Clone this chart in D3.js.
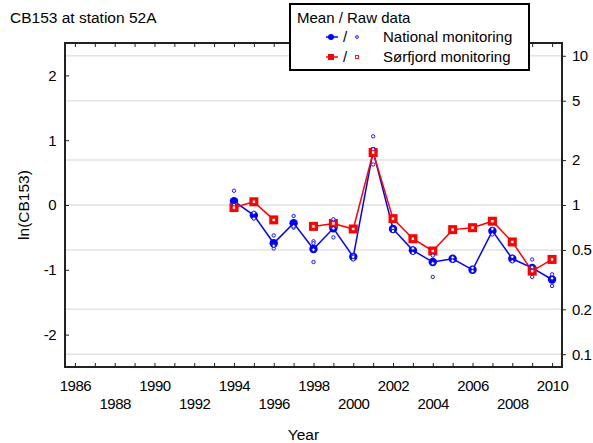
<!DOCTYPE html>
<html>
<head>
<meta charset="utf-8">
<script src="https://cdnjs.cloudflare.com/ajax/libs/d3/7.8.5/d3.min.js"></script>
<style>
  body { margin: 0; background: #fff; }
  svg text { font-family: "Liberation Sans", Arial, sans-serif; fill: #000; }
</style>
</head>
<body>
<div id="chart"></div>
<script>
// data (ln scale)
var years = [1994, 1995, 1996, 1997, 1998, 1999, 2000, 2001, 2002,
             2003, 2004, 2005, 2006, 2007, 2008, 2009, 2010];

var nationalMean = [0.06, -0.16, -0.59, -0.28, -0.68, -0.36, -0.80, 0.83, -0.37,
                    -0.70, -0.88, -0.83, -1.00, -0.40, -0.83, -0.97, -1.15];

var nationalRaw = [
  [0.22, 0.0, -0.04],
  [-0.12, -0.21],
  [-0.47, -0.67, -0.63],
  [-0.17, -0.35, -0.33],
  [-0.56, -0.59, -0.88, -0.69],
  [-0.22, -0.50, -0.36],
  [-0.78, -0.84, -0.80],
  [1.06, 0.86, 0.625],
  [-0.36, -0.40],
  [-0.67, -0.74],
  [-0.72, -0.78, -1.11, -0.90],
  [-0.81, -0.86],
  [-0.97, -1.02],
  [-0.37, -0.455],
  [-0.80, -0.87],
  [-0.84, -0.96, -1.11],
  [-1.07, -1.13, -1.25]
];

// 1997 has no Sørfjord sample
var sorfjordMean = [-0.04, 0.05, -0.23, null, -0.33, -0.285, -0.37, 0.81, -0.21,
                    -0.52, -0.71, -0.38, -0.35, -0.25, -0.57, -1.02, -0.84];
var sorfjordRaw = [-0.04, 0.05, -0.23, null, -0.33, -0.285, -0.37, 0.81, -0.21,
                   -0.52, -0.71, -0.38, -0.35, -0.25, -0.57, -1.02, -0.84];

var leftTicks = [-2, -1, 0, 1, 2];
var rightTicks = [0.1, 0.2, 0.5, 1, 2, 5, 10];
var yearTicks = d3.range(1986, 2011);
var yearLabels = d3.range(1986, 2011, 2);

var W = 593, H = 443;
var plot = {left: 65, top: 43, right: 562, bottom: 367};

var svg = d3.select("#chart").append("svg")
    .attr("width", W)
    .attr("height", H);

var x = d3.scaleLinear().domain([1985.5, 2010.5]).range([plot.left, plot.right]);
var y = d3.scaleLinear().domain([-2.5, 2.5]).range([plot.bottom, plot.top]);
var yLog = d3.scaleLog().domain([Math.exp(-2.5), Math.exp(2.5)]).range([plot.bottom, plot.top]);

var blue = "#0000ff", red = "#ff0000";

// title
svg.append("text")
  .attr("x", 10)
  .attr("y", 23)
  .style("font-size", "15.5px")
  .text("CB153 at station 52A");

// gridlines at the log ticks
svg.append("g").selectAll("line")
  .data(rightTicks)
  .enter().append("line")
    .attr("x1", plot.left)
    .attr("x2", plot.right)
    .attr("y1", function(d) { return yLog(d); })
    .attr("y2", function(d) { return yLog(d); })
    .attr("stroke", "#e2e2e2")
    .attr("stroke-width", 1.5);

// left axis
var gl = svg.append("g")
  .attr("transform", "translate(" + plot.left + ",0)")
  .call(d3.axisLeft(y).tickValues(leftTicks).tickSizeInner(-4).tickSizeOuter(0).tickPadding(9)
        .tickFormat(function(d) { return d; }));

// right axis (raw scale)
var gr = svg.append("g")
  .attr("transform", "translate(" + plot.right + ",0)")
  .call(d3.axisRight(yLog).tickValues(rightTicks).tickSizeInner(4).tickSizeOuter(0).tickPadding(6)
        .tickFormat(function(d) { return String(d); }));

// bottom ticks + labels
var gb = svg.append("g")
  .attr("transform", "translate(0," + plot.bottom + ")")
  .call(d3.axisBottom(x).tickValues(yearTicks).tickSizeInner(-4).tickSizeOuter(0).tickFormat(""));
var gbl = svg.append("g")
  .attr("transform", "translate(0," + plot.bottom + ")")
  .call(d3.axisBottom(x).tickValues(yearLabels).tickSize(0).tickPadding(13)
        .tickFormat(function(d) { return d; }));
gbl.selectAll("text")
  .attr("dy", function(d) { return (d - 1986) % 4 === 0 ? "0.71em" : "1.93em"; });

// top ticks
var gt = svg.append("g")
  .attr("transform", "translate(0," + plot.top + ")")
  .call(d3.axisTop(x).tickValues(yearTicks).tickSizeInner(-4).tickSizeOuter(0).tickFormat(""));

[gl, gr, gb, gbl, gt].forEach(function(g) {
  g.select(".domain").remove();
  g.selectAll("line").attr("stroke", "#222").attr("stroke-width", 1);
  g.selectAll("text")
    .style("font-size", "15px")
    .style("letter-spacing", "-0.5px")
    .style("font-family", "'Liberation Sans', Arial, sans-serif")
    .attr("fill", "#000");
});

// frame
svg.append("rect")
  .attr("x", plot.left)
  .attr("y", plot.top)
  .attr("width", plot.right - plot.left)
  .attr("height", plot.bottom - plot.top)
  .attr("fill", "none")
  .attr("stroke", "#222")
  .attr("stroke-width", 2);

// axis titles
svg.append("text")
  .attr("x", (plot.left + plot.right) / 2 - 10)
  .attr("y", 440)
  .attr("text-anchor", "middle")
  .style("font-size", "15.5px")
  .text("Year");

svg.append("text")
  .attr("transform", "translate(29," + ((plot.top + plot.bottom) / 2) + ") rotate(-90)")
  .attr("text-anchor", "middle")
  .style("font-size", "15.5px")
  .text("ln(CB153)");

// national series
var natData = years.map(function(yr, i) { return {year: yr, v: nationalMean[i]}; });
var sorData = years.map(function(yr, i) { return {year: yr, v: sorfjordMean[i]}; });

var line = d3.line()
  .defined(function(d) { return d.v !== null; })
  .x(function(d) { return x(d.year); })
  .y(function(d) { return y(d.v); });

svg.append("path")
  .datum(natData)
  .attr("d", line)
  .attr("fill", "none")
  .attr("stroke", blue)
  .attr("stroke-width", 1.5);

svg.append("g").selectAll("circle")
  .data(natData)
  .enter().append("circle")
    .attr("cx", function(d) { return x(d.year); })
    .attr("cy", function(d) { return y(d.v); })
    .attr("r", 4.2)
    .attr("fill", blue);

// sørfjord series
svg.append("path")
  .datum(sorData)
  .attr("d", line)
  .attr("fill", "none")
  .attr("stroke", red)
  .attr("stroke-width", 1.5);

var sq = 9;
svg.append("g").selectAll("rect")
  .data(sorData.filter(function(d) { return d.v !== null; }))
  .enter().append("rect")
    .attr("x", function(d) { return x(d.year) - sq / 2; })
    .attr("y", function(d) { return y(d.v) - sq / 2; })
    .attr("width", sq)
    .attr("height", sq)
    .attr("fill", red);

// raw data
var rawPts = [];
years.forEach(function(yr, i) {
  nationalRaw[i].forEach(function(v) { rawPts.push({year: yr, v: v}); });
});

svg.append("g").selectAll("circle")
  .data(rawPts)
  .enter().append("circle")
    .attr("cx", function(d) { return x(d.year); })
    .attr("cy", function(d) { return y(d.v); })
    .attr("r", 1.7)
    .attr("fill", "#fff")
    .attr("stroke", blue)
    .attr("stroke-width", 0.9);

var sorRaw = years.map(function(yr, i) { return {year: yr, v: sorfjordRaw[i]}; })
  .filter(function(d) { return d.v !== null; });
svg.append("g").selectAll("rect")
  .data(sorRaw)
  .enter().append("rect")
    .attr("x", function(d) { return x(d.year) - 1.7; })
    .attr("y", function(d) { return y(d.v) - 1.7; })
    .attr("width", 3.4)
    .attr("height", 3.4)
    .attr("fill", "#fff")
    .attr("stroke", red)
    .attr("stroke-width", 0.9);

// legend
var lg = svg.append("g");
lg.append("rect")
  .attr("x", 290).attr("y", 4)
  .attr("width", 239).attr("height", 66)
  .attr("fill", "#fff")
  .attr("stroke", "#000")
  .attr("stroke-width", 2);
lg.append("text")
  .attr("x", 297).attr("y", 23)
  .style("font-size", "15px")
  .text("Mean / Raw data");

var legendRows = [
  {label: "National monitoring", color: blue, shape: "circle", y: 37},
  {label: "Sørfjord monitoring", color: red, shape: "square", y: 57}
];
legendRows.forEach(function(r) {
  lg.append("line")
    .attr("x1", 326).attr("x2", 338)
    .attr("y1", r.y).attr("y2", r.y)
    .attr("stroke", r.color).attr("stroke-width", 1.5);
  if (r.shape === "circle") {
    lg.append("circle").attr("cx", 331).attr("cy", r.y).attr("r", 3).attr("fill", r.color);
    lg.append("circle").attr("cx", 357).attr("cy", r.y).attr("r", 1.4)
      .attr("fill", "#fff").attr("stroke", r.color).attr("stroke-width", 0.9);
  } else {
    lg.append("rect").attr("x", 328).attr("y", r.y - 3).attr("width", 6).attr("height", 6).attr("fill", r.color);
    lg.append("rect").attr("x", 355.5).attr("y", r.y - 1.5).attr("width", 3).attr("height", 3)
      .attr("fill", "#fff").attr("stroke", r.color).attr("stroke-width", 0.9);
  }
  lg.append("text")
    .attr("x", 343).attr("y", r.y + 5)
    .style("font-size", "15px")
    .text("/");
  lg.append("text")
    .attr("x", 383).attr("y", r.y + 5)
    .style("font-size", "15px")
    .text(r.label);
});
</script>
</body>
</html>
